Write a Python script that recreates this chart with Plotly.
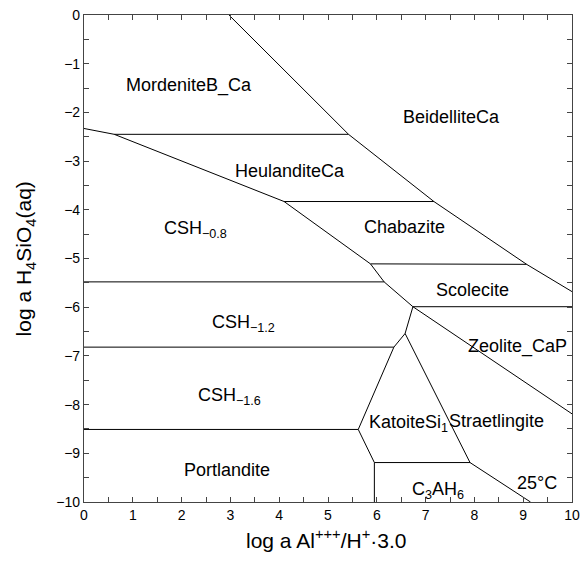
import plotly.graph_objects as go

# Phase boundaries (x = log a Al+++/H+·3.0, y = log a H4SiO4(aq))
beidellite_x = [2.97, 5.42, 7.17, 9.07, 10.0]
beidellite_y = [0.0, -2.45, -3.83, -5.12, -5.68]

csh08_x = [0.0, 0.62, 4.10, 5.87, 6.15, 6.74, 10.0]
csh08_y = [-2.33, -2.45, -3.83, -5.11, -5.48, -5.99, -8.19]

mordenite_heul_x = [0.62, 5.42]
mordenite_heul_y = [-2.45, -2.45]

heul_chab_x = [4.10, 7.17]
heul_chab_y = [-3.83, -3.83]

chab_scol_x = [5.87, 9.07]
chab_scol_y = [-5.11, -5.12]

csh08_csh12_x = [0.0, 6.15]
csh08_csh12_y = [-5.48, -5.48]

scol_zeol_x = [6.74, 10.0]
scol_zeol_y = [-5.99, -5.99]

katoite_left_x = [6.74, 6.58, 6.35, 5.62, 5.95, 5.95]
katoite_left_y = [-5.99, -6.54, -6.82, -8.51, -9.19, -10.0]

csh12_csh16_x = [0.0, 6.35]
csh12_csh16_y = [-6.82, -6.82]

csh16_port_x = [0.0, 5.62]
csh16_port_y = [-8.51, -8.51]

katoite_strae_x = [6.58, 7.91, 9.15]
katoite_strae_y = [-6.54, -9.19, -10.0]

c3ah6_top_x = [5.95, 7.91]
c3ah6_top_y = [-9.19, -9.19]

boundaries = [
    (beidellite_x, beidellite_y),
    (csh08_x, csh08_y),
    (mordenite_heul_x, mordenite_heul_y),
    (heul_chab_x, heul_chab_y),
    (chab_scol_x, chab_scol_y),
    (csh08_csh12_x, csh08_csh12_y),
    (scol_zeol_x, scol_zeol_y),
    (katoite_left_x, katoite_left_y),
    (csh12_csh16_x, csh12_csh16_y),
    (csh16_port_x, csh16_port_y),
    (katoite_strae_x, katoite_strae_y),
    (c3ah6_top_x, c3ah6_top_y),
]

# Field labels
label_text = ["MordeniteB_Ca", "BeidelliteCa", "HeulanditeCa", "CSH<sub>\u22120.8</sub>",
              "Chabazite", "Scolecite", "CSH<sub>\u22121.2</sub>", "Zeolite_CaP",
              "CSH<sub>\u22121.6</sub>", "KatoiteSi<sub>1</sub>", "Straetlingite",
              "Portlandite", "C<sub>3</sub>AH<sub>6</sub>", "25\u00b0C"]
label_x = [2.16, 7.53, 4.22, 2.28, 6.57, 7.97, 3.27, 8.88, 2.98, 6.64, 8.46, 2.93, 7.26, 9.29]
label_y = [-1.45, -2.09, -3.20, -4.40, -4.35, -5.64, -6.33, -6.80, -7.83, -8.38, -8.34, -9.35, -9.76, -9.62]

x_ticks = list(range(0, 11))
y_ticks = list(range(-10, 1))

fig = go.Figure()
for bx, by in boundaries:
    fig.add_trace(go.Scatter(x=bx, y=by, mode="lines",
                             line=dict(color="#000000", width=1),
                             hoverinfo="skip", showlegend=False))

for t, lx, ly in zip(label_text, label_x, label_y):
    fig.add_annotation(x=lx, y=ly, text=t, showarrow=False,
                       xanchor="center", yanchor="middle",
                       font=dict(size=18, color="#000000"))

fig.add_annotation(xref="paper", yref="paper", x=0.496, y=-0.045,
                   text="log a Al<sup>+++</sup>/H<sup>+</sup>\u00b73.0",
                   showarrow=False, xanchor="center", yanchor="top",
                   font=dict(size=21, color="#000000"))
fig.add_annotation(xref="paper", yref="paper", x=-0.121, y=0.5,
                   text="log a H<sub>4</sub>SiO<sub>4</sub>(aq)", textangle=-90,
                   showarrow=False, xanchor="center", yanchor="middle",
                   font=dict(size=21, color="#000000"))

axis_common = dict(
    showgrid=False, zeroline=False, showline=True, linecolor="#444444", linewidth=1.2,
    mirror="ticks", ticks="inside", ticklen=5, tickwidth=1, tickcolor="#444444",
    tickfont=dict(size=14, color="#000000"), automargin=False, ticklabeloverflow="allow",
    minor=dict(ticks="inside", ticklen=5, tickwidth=1, tickcolor="#444444", dtick=0.5, showgrid=False),
)

fig.update_xaxes(range=[0, 10], tickvals=x_ticks, ticktext=[str(v) for v in x_ticks], **axis_common)
fig.update_yaxes(range=[-10, 0], tickvals=y_ticks,
                 ticktext=[("\u2212" + str(-v)) if v < 0 else str(v) for v in y_ticks], **axis_common)

fig.update_layout(
    width=582, height=561,
    margin=dict(l=84, r=10, t=15, b=59),
    paper_bgcolor="white", plot_bgcolor="white",
    font=dict(family="Liberation Sans, Arial, sans-serif", color="#000000"),
)

fig.write_html("out.html", config={"displayModeBar": False},
               post_script="document.body.style.margin='0';")
